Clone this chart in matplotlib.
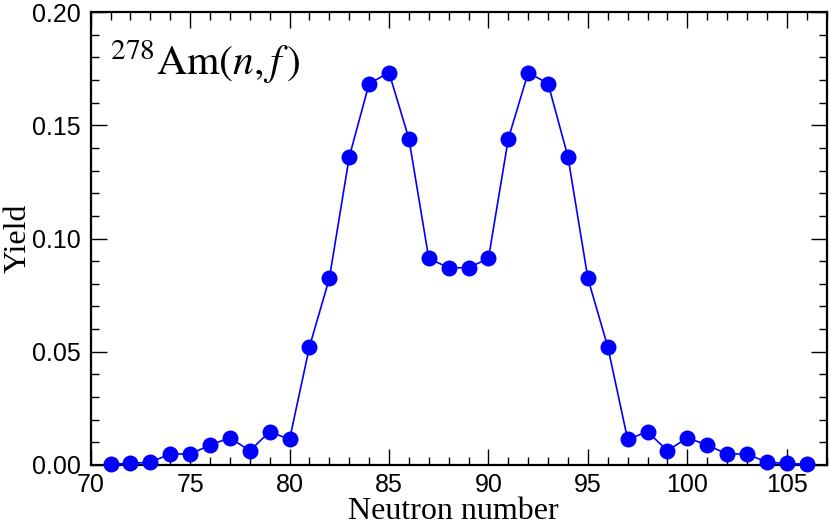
import matplotlib
matplotlib.use("Agg")
import matplotlib.pyplot as plt
from matplotlib.ticker import MultipleLocator, FormatStrFormatter

neutron_number = [71, 72, 73, 74, 75, 76, 77, 78, 79, 80, 81, 82, 83, 84, 85, 86, 87, 88,
                  89, 90, 91, 92, 93, 94, 95, 96, 97, 98, 99, 100, 101, 102, 103, 104, 105, 106]
yield_values = [0.0003, 0.0007, 0.0012, 0.0049, 0.0048, 0.0088, 0.0120, 0.0063, 0.0147, 0.0113,
                0.0522, 0.0824, 0.1360, 0.1684, 0.1733, 0.1441, 0.0912, 0.0871,
                0.0871, 0.0912, 0.1441, 0.1733, 0.1684, 0.1360, 0.0824, 0.0522, 0.0113, 0.0147,
                0.0063, 0.0120, 0.0088, 0.0048, 0.0049, 0.0012, 0.0007, 0.0003]

plt.rcParams['mathtext.fontset'] = 'stix'

fig = plt.figure(figsize=(8.3, 5.25), dpi=100)
ax = fig.add_axes([0.1093, 0.1143, 0.9958 - 0.1093, 0.977 - 0.1143])

ax.plot(neutron_number, yield_values, color='#0000ff', lw=1.2, marker='o',
        markersize=11.5, markeredgewidth=0, clip_on=False, zorder=3)

ax.set_xlim(70, 107)
ax.set_ylim(0, 0.20)
ax.xaxis.set_major_locator(MultipleLocator(5))
ax.xaxis.set_minor_locator(MultipleLocator(1))
ax.yaxis.set_major_locator(MultipleLocator(0.05))
ax.yaxis.set_minor_locator(MultipleLocator(0.01))
ax.yaxis.set_major_formatter(FormatStrFormatter('%.2f'))

for s in ax.spines.values():
    s.set_linewidth(1.6)
    s.set_zorder(2)

ax.tick_params(which='both', direction='in', top=True, right=True, width=1.0,
               labelsize=18)
ax.tick_params(axis='x', which='major', pad=6)
ax.tick_params(axis='y', which='major', pad=7)
ax.tick_params(which='major', length=11.5)
ax.tick_params(which='minor', length=5.8)
for lab in ax.get_xticklabels() + ax.get_yticklabels():
    lab.set_family('Liberation Sans')

ax.set_xlabel('Neutron number', family='Liberation Serif', fontsize=23)
ax.xaxis.label.set_va('baseline')
ax.xaxis.set_label_coords(0.493, -0.119)
ax.set_ylabel('Yield', family='Liberation Serif', fontsize=23)
ax.yaxis.label.set_va('center')
ax.yaxis.set_label_coords(-0.098, 0.5)

ax.text(0.026, 0.862, r'$^{278}\mathrm{Am}(n,f\,)$', transform=ax.transAxes,
        fontsize=30, ha='left', va='baseline')

fig.savefig('out.png', dpi=100)
